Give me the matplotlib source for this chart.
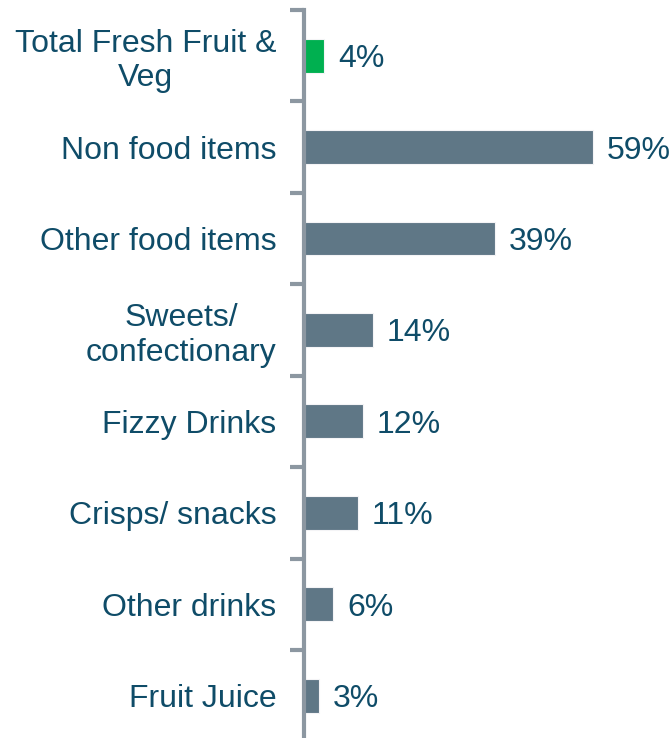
import matplotlib
matplotlib.use("Agg")
import matplotlib.pyplot as plt
import numpy as np

categories = ["Total Fresh Fruit &\nVeg", "Non food items", "Other food items",
              "Sweets/\nconfectionary", "Fizzy Drinks", "Crisps/ snacks",
              "Other drinks", "Fruit Juice"]
values = [4, 59, 39, 14, 12, 11, 6, 3]
bar_colors = ["#00B050"] + ["#5F7786"] * 7

TEXT = "#0F4C68"
SPINE = "#8C97A1"

plt.rcParams["font.family"] = ["Liberation Sans", "DejaVu Sans"]

fig = plt.figure(figsize=(6.71, 7.38), dpi=100)
ax = fig.add_axes([304 / 671, -3.4 / 738, (671 - 304) / 671, 731.4 / 738])

y = np.arange(len(categories))
bars = ax.barh(y, values, height=0.37, color=bar_colors, edgecolor="#F4F4F6", linewidth=0.8)

ax.set_xlim(0, 75)
ax.set_ylim(len(categories) - 0.5, -0.5)

for b, v in zip(bars, values):
    ax.text(b.get_width() + 2.9, b.get_y() + b.get_height() / 2, f"{v}%",
            va="center_baseline", ha="left", fontsize=23, color=TEXT)

ax.set_yticks(y)
ax.set_yticklabels(categories, fontsize=23, color=TEXT, linespacing=1.18)
for lbl in ax.get_yticklabels():
    lbl.set_multialignment("center")
ax.tick_params(axis="y", which="major", length=0, pad=20)
ax.set_yticks(np.arange(-0.5, len(categories), 1.0), minor=True)
ax.tick_params(axis="y", which="minor", length=10, width=3, color=SPINE, direction="out")

ax.set_xticks([])
for s in ["top", "right", "bottom"]:
    ax.spines[s].set_visible(False)
ax.spines["left"].set_color(SPINE)
ax.spines["left"].set_linewidth(3)

fig.savefig("out.png", dpi=100)
